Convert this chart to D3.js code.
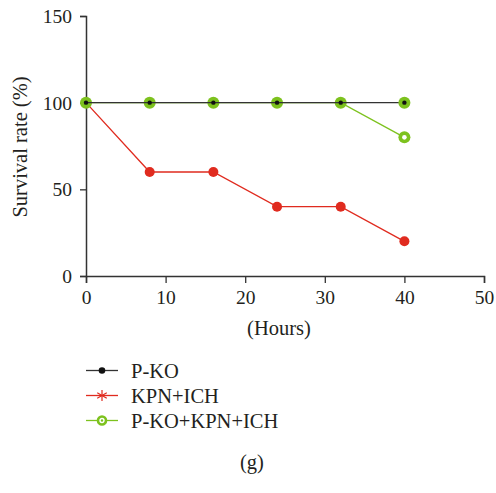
<!DOCTYPE html>
<html lang="en">
<head>
<meta charset="UTF-8">
<title>Survival rate</title>
<script src="https://d3js.org/d3.v7.min.js"></script>
<style>
  body { margin: 0; background: #fff; }
  text { font-family: "Liberation Serif", "DejaVu Serif", serif; fill: #231f20; }
</style>
</head>
<body>
<svg width="496" height="493"></svg>
<script>
// data
const hours = [0, 8, 16, 24, 32, 40];
const pko = [100, 100, 100, 100, 100, 100];
const kpnIch = [100, 60, 60, 40, 40, 20];
const pkoKpnIch = [100, 100, 100, 100, 100, 80];
const xTicks = [0, 10, 20, 30, 40, 50];
const yTicks = [0, 50, 100, 150];
const legendNames = ['P-KO', 'KPN+ICH', 'P-KO+KPN+ICH'];

const red = '#e02b1f', green = '#7dc21e', black = '#231f20';

const svg = d3.select('svg');
const x = d3.scaleLinear().domain([0, 50]).range([86, 484]);
const y = d3.scaleLinear().domain([0, 150]).range([276, 16]);

const axisX = svg.append('g')
    .attr('transform', `translate(0,${y(0)})`)
    .call(d3.axisBottom(x).tickValues(xTicks).tickSize(7).tickPadding(7));
const axisY = svg.append('g')
    .attr('transform', `translate(${x(0)},0)`)
    .call(d3.axisLeft(y).tickValues(yTicks).tickSize(6).tickPadding(8));
[axisX, axisY].forEach(a => {
    a.select('.domain').attr('stroke', '#333').attr('stroke-width', 1.5);
    a.selectAll('.tick line').attr('stroke', '#333').attr('stroke-width', 1.3);
    a.selectAll('.tick text').attr('font-size', 19.5).attr('font-family', '"Liberation Serif", serif').attr('fill', black);
});
axisY.selectAll('.tick text').attr('dy', '0.34em');

svg.append('text')
    .attr('transform', `translate(27,147) rotate(-90)`)
    .attr('text-anchor', 'middle').attr('font-size', 20.5)
    .text('Survival rate (%)');
svg.append('text')
    .attr('x', 279).attr('y', 335)
    .attr('text-anchor', 'middle').attr('font-size', 20.5)
    .text('(Hours)');

const line = d3.line().x((d, i) => x(hours[i])).y(d => y(d));

// green series
svg.append('path').datum(pkoKpnIch).attr('d', line)
    .attr('fill', 'none').attr('stroke', green).attr('stroke-width', 1.3);
// red series
svg.append('path').datum(kpnIch).attr('d', line)
    .attr('fill', 'none').attr('stroke', red).attr('stroke-width', 1.3);
svg.selectAll('.redpt').data(kpnIch).join('circle')
    .attr('cx', (d, i) => x(hours[i])).attr('cy', d => y(d)).attr('r', 5)
    .attr('fill', red);
svg.selectAll('.greenpt').data(pkoKpnIch).join('circle')
    .attr('cx', (d, i) => x(hours[i])).attr('cy', d => y(d)).attr('r', 6)
    .attr('fill', green);
svg.append('circle').attr('cx', x(hours[5])).attr('cy', y(pkoKpnIch[5])).attr('r', 2.3).attr('fill', '#fff');
// black series (drawn with the same green halo as in the figure)
svg.append('path').datum(pko).attr('d', line)
    .attr('fill', 'none').attr('stroke', '#333').attr('stroke-width', 1.3);
svg.selectAll('.halo').data(pko.slice(-1)).join('circle')
    .attr('cx', x(hours[5])).attr('cy', d => y(d)).attr('r', 6)
    .attr('fill', green);
svg.selectAll('.blackpt').data(pko).join('circle')
    .attr('cx', (d, i) => x(hours[i])).attr('cy', d => y(d)).attr('r', 2.2)
    .attr('fill', '#111');

// legend
const legendColors = ['#333', red, green];
const lg = svg.selectAll('.lg').data(legendNames).join('g')
    .attr('transform', (d, i) => `translate(0,${370.5 + i * 25})`);
lg.append('line').attr('x1', 86).attr('x2', 118).attr('y1', 0).attr('y2', 0)
    .attr('stroke', (d, i) => legendColors[i]).attr('stroke-width', 1.3);
lg.filter((d, i) => i === 0).append('circle').attr('cx', 102).attr('r', 3.3).attr('fill', '#111');
const star = lg.filter((d, i) => i === 1).append('g').attr('transform', 'translate(102,0)');
[0, 60, 120].forEach(a => star.append('line')
    .attr('x1', 0).attr('y1', -5.5).attr('x2', 0).attr('y2', 5.5)
    .attr('transform', `rotate(${a})`).attr('stroke', red).attr('stroke-width', 1.2));
lg.filter((d, i) => i === 2).append('circle').attr('cx', 102).attr('r', 4)
    .attr('fill', '#fff').attr('stroke', green).attr('stroke-width', 2.6);
lg.filter((d, i) => i === 2).append('circle').attr('cx', 102).attr('r', 1.2).attr('fill', green);
lg.append('text').attr('x', 131).attr('y', 7).attr('font-size', 20.5).text(d => d);

svg.append('text').attr('x', 252).attr('y', 469).attr('text-anchor', 'middle')
    .attr('font-size', 20.5).text('(g)');
</script>
</body>
</html>
